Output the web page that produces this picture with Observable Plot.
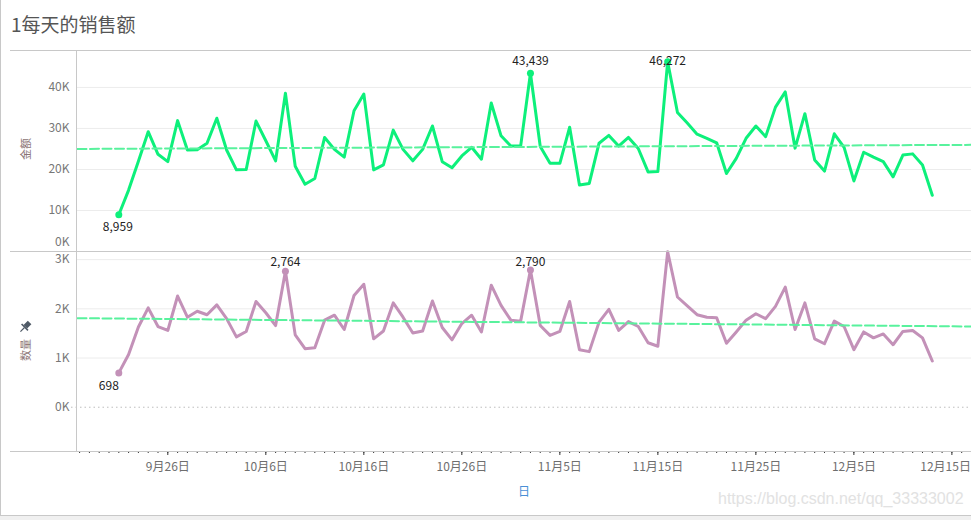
<!DOCTYPE html>
<html>
<head>
<meta charset="utf-8">
<script src="https://cdn.jsdelivr.net/npm/d3@7"></script>
<script src="https://cdn.jsdelivr.net/npm/@observablehq/plot@0.6"></script>
<style>
  html, body { margin: 0; padding: 0; background: #fff; }
  #root { position: relative; width: 971px; height: 520px; overflow: hidden; background: #fff;
          font-family: "Noto Sans CJK SC", "Noto Sans", sans-serif; }
  .abs { position: absolute; }
  .hl { position: absolute; height: 1px; background: #c8c8c8; }
  .vl { position: absolute; width: 1px; background: #c8c8c8; }
  #title { position: absolute; left: 11px; top: 10px; font-size: 19px; color: #555; white-space: nowrap; }
  .ytitle { position: absolute; width: 40px; text-align: center; font-size: 11px; color: #8a7474;
            transform: rotate(-90deg); white-space: nowrap; line-height: 14px; }
  #xtitle { position: absolute; left: 518px; top: 482px; font-size: 12px; color: #4a8fd6; }
  #wm { position: absolute; left: 718px; top: 490px; font-size: 16px; color: #e2e2e2;
        font-family: "Liberation Sans", Arial, sans-serif; white-space: nowrap; }
  #footer { position: absolute; left: 0; top: 515px; width: 971px; height: 5px; background: #f0f0f0;
            border-top: 1px solid #c8c8c8; }
</style>
</head>
<body>
<div id="root">
  <div id="topChart" class="abs" style="left:0;top:50px"></div>
  <div id="botChart" class="abs" style="left:0;top:251px"></div>

  <div class="vl" style="left:0;top:0;height:516px"></div>
  <div id="title">1每天的销售额</div>
  <div class="hl" style="left:10px;top:50px;width:961px"></div>
  <div class="hl" style="left:10px;top:251px;width:961px"></div>
  <div class="hl" style="left:10px;top:451px;width:961px"></div>
  <div class="vl" style="left:76px;top:50px;height:402px"></div>

  <div class="ytitle" style="left:5px;top:142px">金额</div>
  <svg class="abs" width="14" height="14" viewBox="0 0 14 14" style="left:18px;top:320px">
    <g transform="rotate(45 7 7)" fill="#4f5a66">
      <rect x="4.5" y="0.5" width="5" height="6"/>
      <rect x="2.5" y="6.5" width="9" height="1.6"/>
      <rect x="6.4" y="8" width="1.2" height="5.5"/>
    </g>
  </svg>
  <div class="ytitle" style="left:5px;top:343px">数量</div>
  <div id="xtitle">日</div>
  <div id="wm">https://blog.csdn.net/qq_33333002</div>
  <div id="footer"></div>
</div>

<script>
// ---------------- data ----------------
const startDay = "2018-09-21";
const amount = [
  8959, 14970, 22000, 29200, 23700, 21900, 31900, 24750, 24800, 26400,
  32500, 24750, 19900, 20000, 31800, 27000, 22100, 38600, 20800, 16400,
  17800, 27800, 24900, 23000, 34300, 38400, 19900, 21100, 29600, 24900,
  22100, 24900, 30600, 21900, 20400, 23300, 25400, 22500, 36200, 28200,
  25700, 25700, 43439, 25600, 21500, 21500, 30300, 16200, 16600, 26400,
  28300, 25700, 27800, 25100, 19400, 19500, 46272, 33900, 31300, 28600,
  27600, 26500, 19000, 22700, 27600, 30600, 28000, 35200, 38900, 25200,
  33600, 22300, 19600, 28700, 25400, 17200, 24200, 23000, 21900, 18200,
  23500, 23800, 21100, 13700
];
const quantity = [
  698, 1070, 1630, 2020, 1640, 1560, 2260, 1830, 1950, 1880,
  2080, 1800, 1430, 1540, 2150, 1920, 1660, 2764, 1470, 1190,
  1210, 1770, 1870, 1580, 2270, 2500, 1390, 1550, 2120, 1830,
  1510, 1550, 2160, 1620, 1370, 1700, 1870, 1530, 2480, 2070,
  1770, 1750, 2790, 1660, 1460, 1540, 2150, 1170, 1130, 1730,
  1990, 1560, 1740, 1640, 1310, 1240, 3160, 2240, 2060, 1880,
  1830, 1820, 1300, 1530, 1770, 1900, 1800, 2050, 2440, 1580,
  2120, 1390, 1290, 1750, 1640, 1170, 1530, 1410, 1490, 1270,
  1540, 1560, 1410, 940
];
const amountMarked = [0, 42, 56];     // indices of annotated days
const quantityMarked = [0, 17, 42];
const xDomain = ["2018-09-16T18:52Z", "2018-12-17T00:00Z"];
const trendDates = ["2018-09-16T18:52Z", "2018-12-17T00:00Z"];
const amountTrend = [25000, 26000];
const quantityTrend = [1810, 1640];
const amountTicks = [10000, 20000, 30000, 40000];
const quantityTicks = [1000, 2000, 3000];
const majorTickDates = ["2018-09-26", "2018-10-06", "2018-10-16", "2018-10-26", "2018-11-05",
                        "2018-11-15", "2018-11-25", "2018-12-05", "2018-12-15"];
const majorTickLabels = ["9月26日", "10月6日", "10月16日", "10月26日", "11月5日",
                         "11月15日", "11月25日", "12月5日", "12月15日"];

// ---------------- setup ----------------
const FONT = '"Noto Sans CJK SC", "Noto Sans", sans-serif';
const GREEN = "#0df07b";
const PINK = "#c391b8";
const TREND = "#58f29d";
const TICKTXT = "#6e6e6e";
const W = 971, ML = 77;
const fmt = d3.format(",");
const xDom = xDomain.map(d => new Date(d));
const day0 = new Date(startDay);
const days = amount.map((_, i) => d3.utcDay.offset(day0, i));

function panel({values, marked, trend, ticks, yDomain, h, color, bottom}) {
  const k = h / (yDomain[1] - yDomain[0]);
  const rows = values.map((v, i) => ({date: days[i], v}));
  const vMin = d3.min(values);
  const mk = marked.map(i => rows[i]);
  const low = mk.filter(r => r.v === vMin);
  const high = mk.filter(r => r.v !== vMin)
    .map(r => ({...r, ly: Math.min(r.v + 13 / k, yDomain[1] - 10.5 / k)}));
  const trendRows = trendDates.map((d, i) => ({date: new Date(d), v: trend[i]}));
  const marks = [
    Plot.gridY(ticks, {stroke: "#ececec", strokeOpacity: 1}),
    Plot.axisY(ticks, {tickSize: 0, tickPadding: 8, tickFormat: d => d / 1000 + "K",
                       fill: "#777", label: null, fontSize: 12})
  ];
  if (bottom) {
    marks.push(
      Plot.ruleY([0], {stroke: "#bdbdbd", strokeDasharray: "1.5,3", insetLeft: -6}),
      Plot.axisY([0], {tickSize: 0, tickPadding: 8, tickFormat: d => d / 1000 + "K",
                       fill: "#777", label: null, fontSize: 12})
    );
  } else {
    marks.push(Plot.text([0], {y: d => d, frameAnchor: "left", dx: -8, dy: -9, textAnchor: "end",
                               text: d => d / 1000 + "K", fill: "#777", fontSize: 12}));
  }
  marks.push(
    Plot.line(rows, {x: "date", y: "v", stroke: color, strokeWidth: 3}),
    Plot.line(trendRows, {x: "date", y: "v", stroke: TREND, strokeWidth: 2, strokeDasharray: "9,3.5"}),
    Plot.dot(mk, {x: "date", y: "v", r: 3.5, fill: color, stroke: null}),
    Plot.text(high, {x: "date", y: "ly", text: d => fmt(d.v), fill: "#222", fontSize: 12, lineAnchor: "middle"}),
    Plot.text(low, {x: "date", y: "v", text: d => fmt(d.v), fill: "#222", fontSize: 12, lineAnchor: "middle",
                    dy: bottom ? 13.5 : 12, dx: bottom ? -10 : -1})
  );
  if (bottom) {
    const minor = d3.utcDay.range(xDom[0], xDom[1]);
    const maj = majorTickDates.map(d => new Date(d));
    const lab = maj.map((d, i) => ({date: d, label: majorTickLabels[i]}));
    marks.push(
      Plot.axisX(minor, {tickSize: 2, tickFormat: () => "", stroke: "#333", label: null}),
      Plot.axisX(maj, {tickSize: 4, tickFormat: () => "", stroke: "#333", label: null}),
      Plot.text(lab.slice(0, -1), {x: "date", text: "label", frameAnchor: "bottom", dy: 16,
                                   lineAnchor: "middle", fill: TICKTXT, fontSize: 12}),
      Plot.text(lab.slice(-1), {x: "date", text: "label", frameAnchor: "bottom", dy: 16, dx: 19,
                                textAnchor: "end", lineAnchor: "middle", fill: TICKTXT, fontSize: 12})
    );
  }
  return Plot.plot({
    width: W, height: h + (bottom ? 30 : 0),
    marginLeft: ML, marginRight: 0, marginTop: 0, marginBottom: bottom ? 30 : 0,
    style: {fontFamily: FONT, fontSize: "12px", background: "transparent", overflow: "visible"},
    x: {type: "utc", domain: xDom, axis: bottom ? undefined : null},
    y: {domain: yDomain, axis: null},
    marks
  });
}

document.getElementById("topChart").append(panel({
  values: amount, marked: amountMarked, trend: amountTrend, ticks: amountTicks,
  yDomain: [0, 49000], h: 201, color: GREEN, bottom: false
}));
document.getElementById("botChart").append(panel({
  values: quantity, marked: quantityMarked, trend: quantityTrend, ticks: quantityTicks,
  yDomain: [-900, 3165], h: 200, color: PINK, bottom: true
}));
</script>
</body>
</html>
